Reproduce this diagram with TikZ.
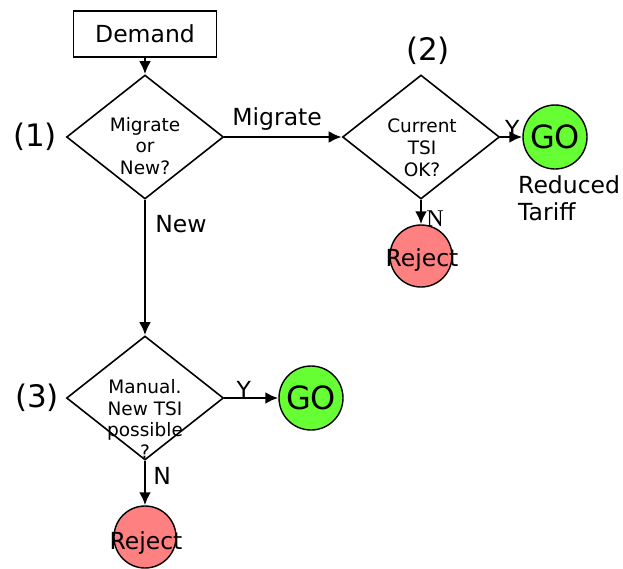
\documentclass[tikz,border=0pt]{standalone}
\usepackage{fontspec}
\setmainfont{DejaVu Sans}
\newfontfamily\serifN{Liberation Serif}
\usetikzlibrary{shapes.geometric,arrows.meta}
\definecolor{gogreen}{RGB}{102,255,51}
\definecolor{rejred}{RGB}{255,128,128}
\tikzset{
  line/.style={line width=2.6pt,-{Latex[length=13pt,width=12pt]}},
  diam/.style={diamond,draw,line width=1.6pt,inner sep=0pt,minimum width=157pt,minimum height=124pt},
  qtext/.style={align=center,font=\fontsize{18.5}{21.8}\selectfont,inner sep=0pt},
  gocirc/.style={circle,draw,line width=1.4pt,fill=gogreen,inner sep=0pt,minimum size=64pt,font=\fontsize{32}{32}\selectfont},
  rejcirc/.style={circle,draw,line width=1.4pt,fill=rejred,inner sep=0pt,minimum size=62pt},
  big/.style={font=\fontsize{23.5}{27}\selectfont,inner sep=0pt},
  num/.style={font=\fontsize{31}{31}\selectfont,inner sep=0pt},
}
\begin{document}
\begin{tikzpicture}[x=1pt,y=-1pt]
\useasboundingbox (0,0) rectangle (623,568);
% start box
\node[draw,line width=1.6pt,minimum width=143pt,minimum height=46pt,inner sep=0pt,font=\fontsize{23.5}{23.5}\selectfont] (demand) at (145,34) {Demand};
% diamonds
\node[diam] (d1) at (145,137) {};
\node[qtext] (t1) at (145,146) {Migrate\\or\\New?};
\node[diam] (d2) at (421,137) {};
\node[qtext] (t2) at (422,148) {Current\\TSI\\OK?};
\node[diam] (d3) at (145,398) {};
\node[qtext] (t3) at (145,419) {Manual.\\New TSI\\possible\\?};
% numbers
\node[num] (n1) at (35,137) {(1)};
\node[num] (n2) at (428,51) {(2)};
\node[num] (n3) at (37,398) {(3)};
% terminals
\node[gocirc] (go1) at (555,137) {GO};
\node[gocirc] (go2) at (311,398) {GO};
\node[rejcirc] (rej1) at (421,256) {};
\node[big] (rt1) at (422,260) {Reject};
\node[rejcirc] (rej2) at (145,537) {};
\node[big] (rt2) at (146,543) {Reject};
\node[big,align=left,anchor=west] (tariff) at (518,198) {Reduced\\Tariff};
% connectors
\draw[line] (demand.south) -- (d1.north);
\draw[line] (d1.east) -- node[big,above=5pt,pos=0.45] (lmig) {Migrate} (d2.west);
\draw[line] (d1.south) -- node[big,right=9pt,pos=0.18] (lnew) {New} (d3.north);
\draw[line] (d2.east) -- node[big,above=-2pt,pos=0.55] (ly1) {Y} (go1.west);
\draw[line] (d2.south) -- node[font=\serifN\fontsize{24}{24}\selectfont,right=4pt,pos=0.75,inner sep=0pt] (ln1) {N} (rej1.north);
\draw[line] (d3.east) -- node[big,above=-2pt,pos=0.36] (ly2) {Y} (go2.west);
\draw[line] (d3.south) -- node[big,right=7pt,pos=0.33] (ln2) {N} (rej2.north);
\end{tikzpicture}
\end{document}
